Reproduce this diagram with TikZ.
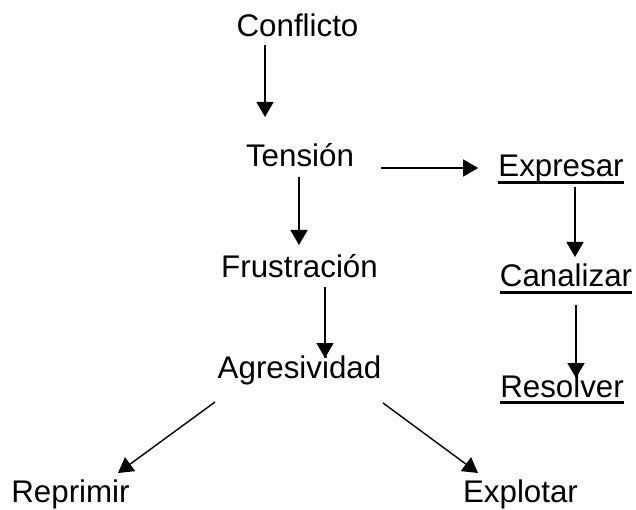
\documentclass[tikz,border=0pt]{standalone}
\usepackage{fontspec}
\setmainfont{Liberation Sans}
\usetikzlibrary{arrows.meta,calc}
\begin{document}
\begin{tikzpicture}[x=1pt,y=-1pt,
  lbl/.style={anchor=base,inner sep=0pt,font=\fontsize{31.3}{36}\selectfont},
  conn/.style={line width=1.4pt,-{Triangle[width=17pt,length=15pt]}},
  uline/.style={line width=2.8pt}]
\useasboundingbox (0,0) rectangle (636,510);
\node[lbl] (con) at (297.5,37) {Conflicto};
\node[lbl] (ten) at (300,167) {Tensión};
\node[lbl] (exp) at (561,177) {Expresar};
\node[lbl] (can) at (566,287) {Canalizar};
\node[lbl] (res) at (562,397) {Resolver};
\node[lbl] (fru) at (299.5,277) {Frustración};
\node[lbl] (agr) at (299.5,378) {Agresividad};
\node[lbl] (rep) at (70.5,502) {Reprimir};
\node[lbl] (exl) at (520.5,502) {Explotar};
\foreach \n in {exp,can,res}
  \draw[uline] ([yshift=-5.5pt]\n.base west) -- ([yshift=-5.5pt]\n.base east);
\draw[conn] ($(con.base)+(-32.5,8)$) -- ($(ten.base)+(-35,-50)$);
\draw[conn] ($(ten.base)+(-1,10)$) -- ($(fru.base)+(-0.5,-32)$);
\draw[conn] ($(ten.base east)+(27,1)$) -- ($(exp.base west)+(-20,-9)$);
\draw[conn] ($(exp.base)+(14,10)$) -- ($(can.base)+(9,-30)$);
\draw[conn] ($(can.base)+(10,18)$) -- ($(res.base)+(14,-19)$);
\draw[conn] ($(fru.base)+(25.5,10)$) -- ($(agr.base)+(25.5,-20)$);
\draw[conn] ($(agr.base)+(-84.5,24)$) -- ($(rep.base)+(47.5,-29)$);
\draw[conn] ($(agr.base)+(83.5,25)$) -- ($(exl.base)+(-42.5,-29)$);
\end{tikzpicture}
\end{document}
